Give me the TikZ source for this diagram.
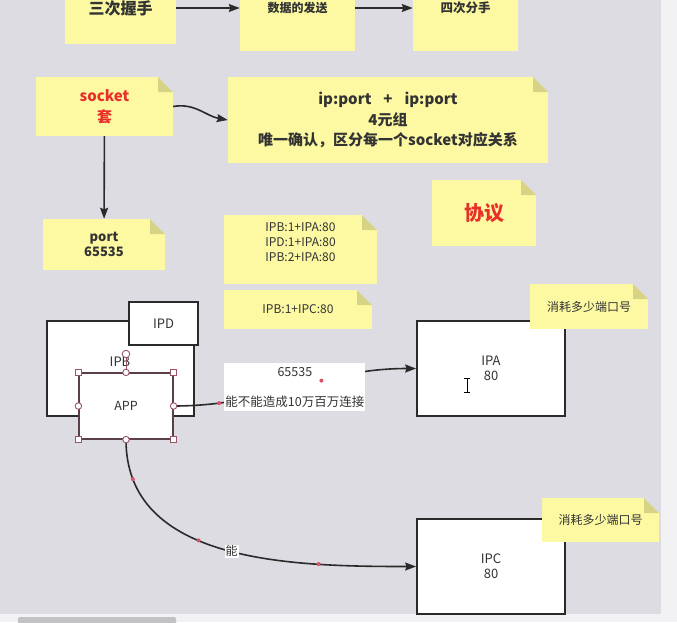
\documentclass[tikz,border=0pt]{standalone}
\usepackage{fontspec}
\setmainfont{Noto Sans CJK SC}
\usetikzlibrary{arrows.meta}

\definecolor{canvas}{HTML}{DCDCE2}
\definecolor{sidec}{HTML}{F2F2F4}
\definecolor{barc}{HTML}{C2C2C4}
\definecolor{notey}{HTML}{FCF9A2}
\definecolor{foldc}{HTML}{D7D386}
\definecolor{notetx}{HTML}{333333}
\definecolor{redtx}{HTML}{E8302A}
\definecolor{edge}{HTML}{2A2A2A}
\definecolor{appc}{HTML}{5C4048}
\definecolor{selc}{HTML}{9A5565}
\definecolor{dotc}{HTML}{D9506A}

\tikzset{
  note/.style={fill=notey, text=notetx, inner sep=2pt, align=center,
    path picture={
      \fill[canvas] ([xshift=-15pt]path picture bounding box.north east)
        -- (path picture bounding box.north east)
        -- ([yshift=-15pt]path picture bounding box.north east) -- cycle;
      \fill[foldc] ([xshift=-15pt]path picture bounding box.north east)
        -- ([xshift=-15pt,yshift=-15pt]path picture bounding box.north east)
        -- ([yshift=-15pt]path picture bounding box.north east) -- cycle;
    }},
  box/.style={draw=edge, line width=1.7pt, fill=white, text=notetx, align=center,
    font=\fontsize{13}{15}\selectfont},
  link/.style={draw=edge, line width=1.6pt, ->},
  tag/.style={fill=white, text=notetx, inner sep=1pt, align=center},
  hsq/.style={draw=selc, fill=white, line width=0.9pt, minimum size=6pt, inner sep=0},
  hci/.style={circle, draw=selc, fill=white, line width=0.9pt, minimum size=6.5pt, inner sep=0},
  rdot/.style={circle, fill=dotc, minimum size=4pt, inner sep=0},
}

\begin{document}
\begin{tikzpicture}[x=1pt, y=-1pt, >={Stealth[length=11pt,width=8pt,inset=1.5pt]}]
  \useasboundingbox (0,0) rectangle (677,622);
  \clip (0,0) rectangle (677,622);
  \fill[canvas] (0,0) rectangle (661,614);
  \fill[sidec] (661,0) rectangle (677,622);
  \fill[sidec] (0,614) rectangle (661,622);
  \fill[barc, rounded corners=2pt] (18,617) rectangle (176,626);

  % top row, cut off by the window
  \node[note, minimum width=111, minimum height=72, font=\fontsize{16}{19}\selectfont\bfseries] (woshou) at (120.5,8) {三次握手};
  \node[note, minimum width=115, minimum height=86, font=\fontsize{12}{15}\selectfont\bfseries] (fasong) at (297.5,8) {数据的发送};
  \node[note, minimum width=105, minimum height=86, font=\fontsize{12.5}{15}\selectfont\bfseries] (fenshou) at (465.5,8) {四次分手};
  \draw[link] (woshou) -- (fasong);
  \draw[link] (fasong) -- (fenshou);

  % socket notes
  \node[note, minimum width=137, minimum height=59, font=\fontsize{15}{21}\selectfont\bfseries, text=redtx] (sock) at (104.5,106.5) {socket\\套};
  \node[note, minimum width=320, minimum height=86, font=\fontsize{15}{20.5}\selectfont\bfseries] (yuanzu) at (388,120) {ip:port\hspace{12pt}+\hspace{12pt}ip:port\\4元组\\唯一确认，区分每一个socket对应关系};
  \node[note, minimum width=122, minimum height=51, font=\fontsize{13}{14.5}\selectfont\bfseries] (port) at (104,244.5) {port\\65535};
  \node[note, minimum width=104, minimum height=66, font=\fontsize{20}{24}\selectfont\bfseries, text=redtx] (xieyi) at (484,213) {协议};
  \draw[link] (sock.east) to[out=10,in=170] (yuanzu.west);
  \draw[link] (sock) -- (port);

  \node[note, minimum width=153, minimum height=69, font=\fontsize{12}{15}\selectfont] (pairs) at (300.5,249.5) {IPB:1+IPA:80\\IPD:1+IPA:80\\IPB:2+IPA:80\\\mbox{}};
  \node[note, minimum width=148, minimum height=39, font=\fontsize{12}{15}\selectfont] (pairc) at (298,309.5) {IPB:1+IPC:80};

  % hosts
  \node[box, minimum width=147, minimum height=95] (ipb) at (120.5,368.5) {};
  \node[text=notetx, font=\fontsize{13}{15}\selectfont] (ipbname) at (120,362) {IPB};
  \node[box, minimum width=69, minimum height=43] (ipd) at (163.5,323.5) {IPD};
  \node[box, draw=appc, line width=1.2pt, minimum width=94, minimum height=66, font=\fontsize{12.5}{15}\selectfont] (app) at (126,406) {APP};
  \node[box, minimum width=148, minimum height=95] (ipa) at (491,368.5) {IPA\\80};
  \node[box, minimum width=148, minimum height=95] (ipc) at (491,566.5) {IPC\\80};
  \node[note, minimum width=118, minimum height=45, font=\fontsize{12}{15}\selectfont] (haoa) at (589,306.5) {消耗多少端口号};
  \node[note, minimum width=117, minimum height=44, font=\fontsize{12}{15}\selectfont] (haoc) at (600.5,520) {消耗多少端口号};

  \draw[link] (app.east) to[out=0,in=180]
    node[tag, minimum width=138, minimum height=48, font=\fontsize{12.5}{16}\selectfont] (lianjie) {65535\\[14pt]能不能造成10万百万连接}
    node[rdot, pos=.17] (da) {} node[rdot, pos=.62] (db) {} (ipa.west);
  \draw[link] (app.south) to[out=-90,in=180]
    node[tag, pos=.52, font=\fontsize{12}{14}\selectfont] (neng) {能}
    node[rdot, pos=.12] (dc) {} node[rdot, pos=.42] (dd) {} node[rdot, pos=.75] (de) {} (ipc.west);

  % selection handles on APP
  \node[hci, minimum size=7.5pt] (rot) at (126,354) {};
  \draw[selc, line width=0.6pt] (rot) -- (app.north);
  \foreach \a/\n in {north west/nw, north east/ne, south west/sw, south east/se}
    \node[hsq] (hs-\n) at (app.\a) {};
  \foreach \a/\n in {north/n, south/s, west/w, east/e}
    \node[hci] (hc-\n) at (app.\a) {};

  % text cursor
  \draw[line width=1pt] (464,378) -- (470,378) (467,378) -- (467,392) (464,392) -- (470,392);
\end{tikzpicture}
\end{document}
